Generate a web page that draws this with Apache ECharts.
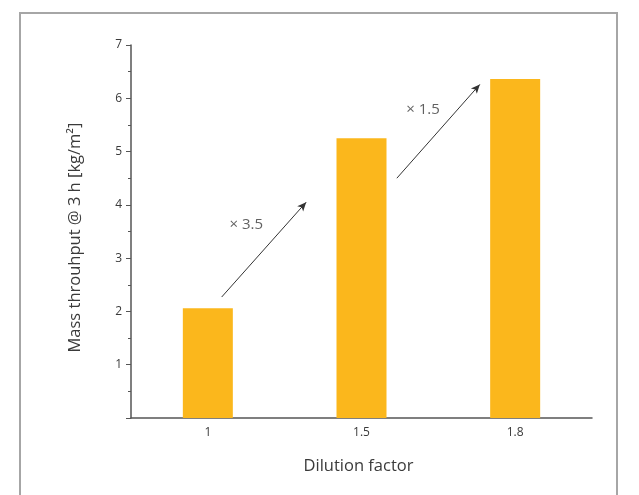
<!DOCTYPE html>
<html><head><meta charset="utf-8">
<script src="https://cdn.jsdelivr.net/npm/echarts@6/dist/echarts.min.js"></script>
<style>html,body{margin:0;padding:0;background:#fff}#c{width:639px;height:495px}</style>
</head><body><div id="c"></div>
<script>
const categories = ['1', '1.5', '1.8'];
const throughput = [2.06, 5.25, 6.36];
const yTicks = [1, 2, 3, 4, 5, 6, 7];
// annotation arrows in (category position, value) units; category i centred at i+0.5
const arrow1 = [[0.59, 2.27], [1.14, 4.05]];
const arrow2 = [[1.73, 4.5], [2.27, 6.26]];
const notes = [[0.75, 3.62, '× 3.5'], [1.9, 5.78, '× 1.5']];

const chart = echarts.init(document.getElementById('c'));
const txt = '#3a3a3a';
const font = 'Open Sans';
chart.setOption({
  animation: false,
  graphic: [{type: 'rect', shape: {x: 20, y: 13, width: 597, height: 500}, style: {fill: 'none', stroke: '#a6a6a6', lineWidth: 2}}],
  grid: {left: 131, right: 47, top: 45, bottom: 77},
  xAxis: [{
    type: 'category', data: categories,
    name: 'Dilution factor', nameLocation: 'middle', nameGap: 40,
    nameTextStyle: {color: txt, fontSize: 16.5, fontFamily: font, padding: [0, 6, 0, 0]},
    axisLine: {lineStyle: {color: '#555', width: 1.5}},
    axisTick: {alignWithLabel: true, length: 5, lineStyle: {color: '#555'}},
    axisLabel: {color: txt, fontSize: 12, fontFamily: font, margin: 9}
  }, {
    type: 'value', min: 0, max: 3, show: false
  }],
  yAxis: {
    type: 'value', min: 0, max: 7, interval: 1,
    name: 'Mass throuhput @ 3 h [kg/m²]', nameLocation: 'middle', nameGap: 47,
    nameTextStyle: {color: txt, fontSize: 16.5, fontFamily: font, padding: [0, 12, 0, 0]},
    axisLine: {show: true, lineStyle: {color: '#555', width: 1.5}},
    axisTick: {show: true, length: 5, lineStyle: {color: '#555'}},
    minorTick: {show: true, splitNumber: 2, length: 3, lineStyle: {color: '#555'}},
    splitLine: {show: false},
    axisLabel: {color: txt, fontSize: 12, fontFamily: font, margin: 9,
      formatter: v => yTicks.includes(v) ? String(v) : ''}
  },
  series: [{
    type: 'bar', data: throughput, barWidth: 50,
    itemStyle: {color: '#FBB71C'}
  }, {
    type: 'scatter', xAxisIndex: 1, symbolSize: 0,
    data: notes.map(n => ({value: [n[0], n[1]], name: n[2]})),
    label: {show: true, position: 'inside', formatter: p => p.name, color: txt, fontSize: 15, fontFamily: font},
    markLine: {
      silent: true, symbol: ['none', 'arrow'], symbolSize: [6, 9],
      lineStyle: {color: '#333', width: 1, type: 'solid'},
      label: {show: false},
      data: [
        [{coord: arrow1[0]}, {coord: arrow1[1]}],
        [{coord: arrow2[0]}, {coord: arrow2[1]}]
      ]
    }
  }]
});
</script></body></html>
